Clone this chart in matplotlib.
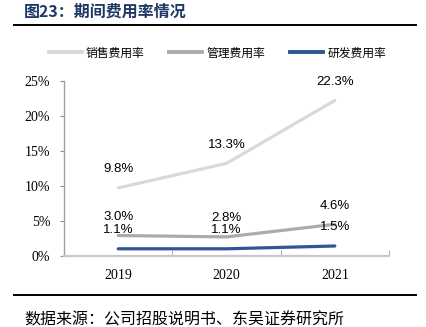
import numpy as np
import matplotlib.pyplot as plt
from matplotlib.lines import Line2D

years = ["2019", "2020", "2021"]
sales_rate = [9.8, 13.3, 22.3]     # 销售费用率 (%)
admin_rate = [3.0, 2.8, 4.6]       # 管理费用率 (%)
rd_rate = [1.1, 1.1, 1.5]          # 研发费用率 (%)
series_names = ["销售费用率", "管理费用率", "研发费用率"]
series_colors = ["#d9d9d9", "#ababab", "#2f5597"]

cjk = ["Noto Sans CJK SC", "DejaVu Sans"]

fig = plt.figure(figsize=(4.27, 3.27), dpi=100)
ax = fig.add_axes([0.150, 0.2156, 0.761, 0.5352])

x = np.arange(len(years)) + 0.5
for vals, color in zip([sales_rate, admin_rate, rd_rate], series_colors):
    ax.plot(x, vals, color=color, lw=2.3, solid_capstyle="round")
    for xi, v in zip(x, vals):
        ax.annotate(f"{v:.1f}%", (xi, v), xytext=(0, 13.5), textcoords="offset points",
                    ha="center", va="center", fontsize=9.5, family="Liberation Sans")

ax.set_xlim(0, 3)
ax.set_ylim(0, 25)
ax.set_yticks(range(0, 26, 5))
ax.set_yticklabels([f"{t}%" for t in range(0, 26, 5)], family="Liberation Serif", fontsize=10)
ax.set_xticks(x)
ax.set_xticklabels(years, family="Liberation Serif", fontsize=10)
ax.set_xticks([1, 2, 3], minor=True)
ax.tick_params(axis="x", which="major", length=0, pad=9)
ax.tick_params(axis="x", which="minor", direction="in", length=4, color="#a0a0a0")
ax.tick_params(axis="y", length=3, color="#909090", pad=7)

for side in ["top", "right"]:
    ax.spines[side].set_visible(False)
ax.spines["left"].set_color("#a0a0a0")
ax.spines["bottom"].set_color("#c8c8c8")
ax.spines["left"].set_linewidth(1.0)
ax.spines["bottom"].set_linewidth(1.6)

handles = [Line2D([], [], color=c, lw=2.8) for c in series_colors]
fig.legend(handles, series_names, loc="center", bbox_to_anchor=(0.509, 0.838), ncol=3,
           frameon=False, prop={"family": cjk, "size": 8.5}, handlelength=2.8,
           handletextpad=0.35, columnspacing=2.1)

# header and footer
fig.text(24 / 427, 1 - 12 / 327, "图23：期间费用率情况", family=cjk, fontsize=11.5,
         fontweight="bold", color="#1f3864", ha="left", va="center")
fig.add_artist(Line2D([14 / 427, 416 / 427], [1 - 25 / 327] * 2, color="black", lw=1.4))
fig.add_artist(Line2D([14 / 427, 416 / 427], [1 - 295 / 327] * 2, color="black", lw=1.4))
fig.text(24 / 427, 1 - 320 / 327, "数据来源：公司招股说明书、东吴证券研究所", family=cjk,
         fontsize=11.5, color="black", ha="left", va="center")

fig.savefig("out.png", dpi=100)
